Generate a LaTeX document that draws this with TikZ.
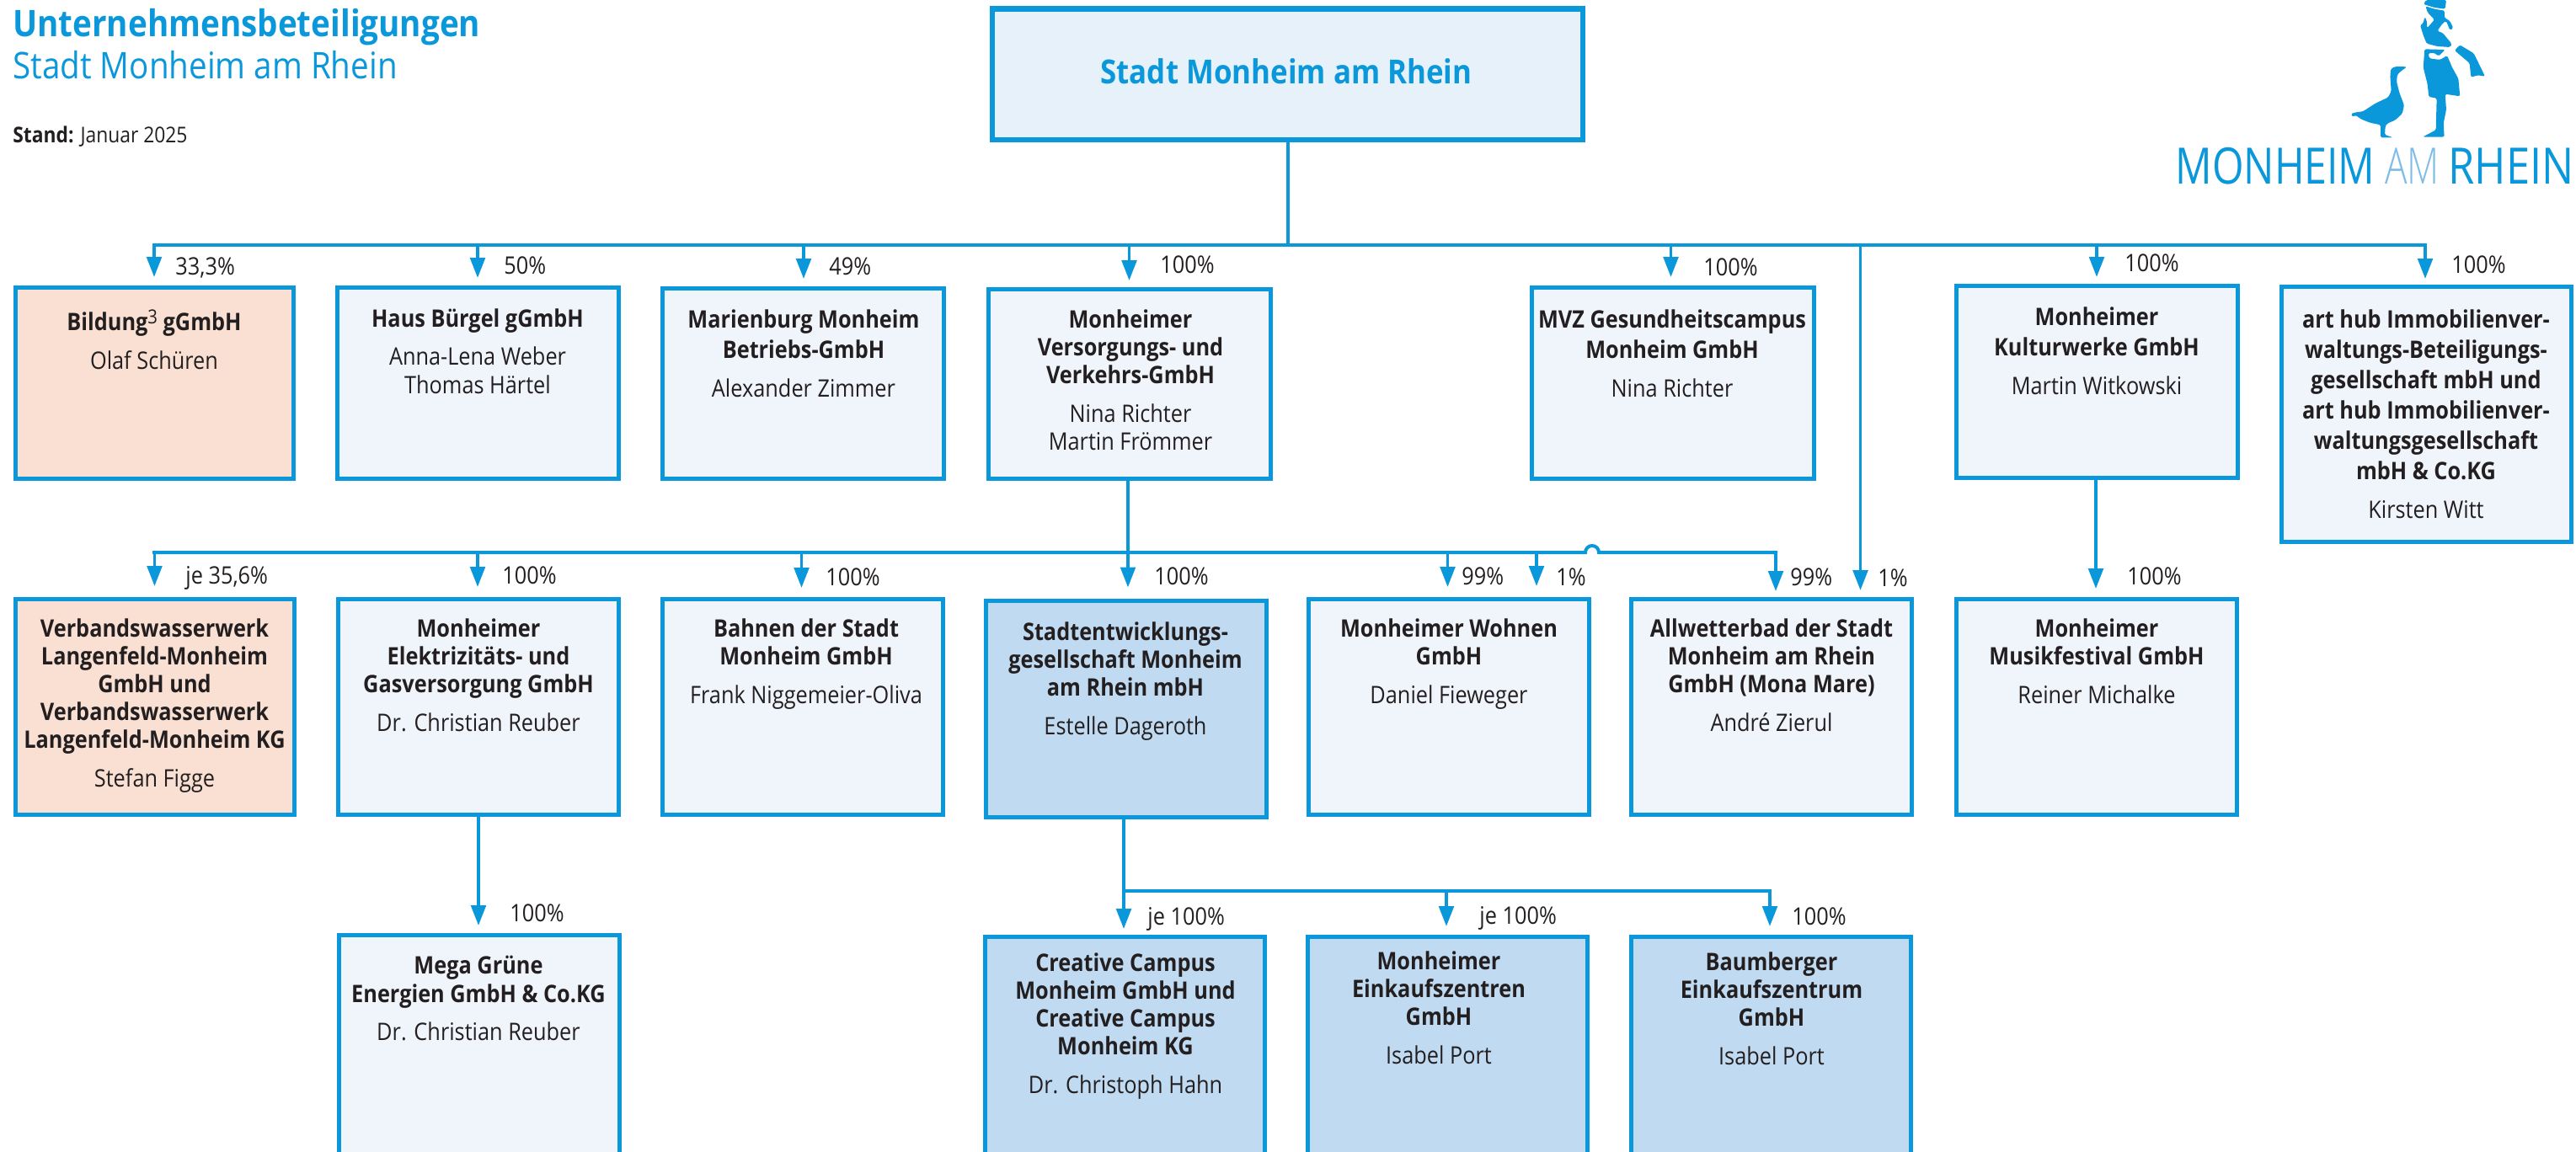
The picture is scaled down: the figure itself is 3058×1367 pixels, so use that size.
\documentclass[tikz,border=0pt]{standalone}
\usepackage{fontspec}
\setmainfont[FakeStretch=0.885]{Open Sans}
\newfontfamily\logofont[FakeStretch=0.81]{Open Sans}
\newfontfamily\logofontrh[FakeStretch=0.85]{Open Sans}
\newfontfamily\logofontam[FakeStretch=0.74]{Open Sans Light}
\usetikzlibrary{arrows.meta,fit}
\definecolor{MonBlue}{HTML}{0A98DB}
\definecolor{MonSky}{HTML}{7FBDE8}
\definecolor{MonText}{HTML}{231F20}
\definecolor{MonPale}{HTML}{F0F5FC}
\definecolor{MonTop}{HTML}{E6F1F9}
\definecolor{MonMid}{HTML}{C0DAF1}
\definecolor{MonPeach}{HTML}{F9E0D3}

\tikzset{
    firm/.style={draw=MonBlue, line width=2.5pt, fill=MonPale, inner sep=0pt},
    firmtext/.style={anchor=north, align=center, inner sep=0pt, text=MonText,
        font=\fontsize{14.3}{16.6}\selectfont\bfseries, execute at begin node=\strut},
    firmwide/.style={firmtext, font=\fontsize{14.3}{18}\selectfont\bfseries},
    share/.style={anchor=base west, inner sep=0pt, text=MonText,
        font=\fontsize{14.3}{16}\selectfont},
    link/.style={draw=MonBlue, line width=1.8pt, -{Triangle[length=12pt,width=8.8pt]}},
    bus/.style={draw=MonBlue, line width=2pt},
}
\newcommand{\pers}{\\[6.3pt]\mdseries}
\newcommand{\persw}{\\[5.4pt]\mdseries}
\newcommand{\persb}{\\\mdseries}

\begin{document}
\begin{tikzpicture}[x=0.5pt,y=-0.5pt]
\useasboundingbox (0,0) rectangle (3058,1367);

% head
\node[firm, line width=3.4pt, fill=MonTop, fit={(1178,10.5) (1879,166)}] (stadt) {};
\node[anchor=center, inner sep=0pt, text=MonBlue, font=\fontsize{19.7}{22}\selectfont\bfseries] (stadtT) at (1527,85) {Stadt Monheim am Rhein};

\node[anchor=base west, inner sep=0pt, text=MonBlue, font=\fontsize{21.8}{24}\selectfont\bfseries] (title) at (15,43) {Unternehmensbeteiligungen};
\node[anchor=base west, inner sep=0pt, text=MonBlue, font=\fontsize{21.8}{24}\selectfont] (subtitle) at (15,93) {Stadt Monheim am Rhein};
\node[anchor=base west, inner sep=0pt, text=MonText, font=\fontsize{12.9}{15}\selectfont] (stand) at (15,169) {\textbf{Stand:} Januar 2025};

% logo
\begin{scope}[shift={(2780,0)},scale=0.3333,rounded corners=0.8pt]
\fill[MonBlue] (33,405) -- (50,400) -- (75,397) -- (120,368) -- (165,347) -- (176,325) -- (172,270) -- (175,245) -- (190,237) -- (232,238) -- (215,250) -- (198,265) -- (195,290) -- (205,330) -- (222,375) -- (215,405) -- (190,428) -- (162,440) -- (155,450) -- (153,480) -- (182,490) -- (138,490) -- (138,445) -- (100,437) -- (70,425) -- (48,410) -- (38,417) -- cycle;
\fill[MonBlue] (279,90) -- (290,83) -- (295,60) -- (302,72) -- (304,100) -- (330,70) -- (306,45) -- (298,22) -- (330,32) -- (366,38) -- (365,62) -- (385,75) -- (397,100) -- (385,108) -- (372,75) -- (360,82) -- (340,110) -- (360,118) -- (392,157) -- (385,168) -- (340,165) -- (302,155) -- (290,125) -- cycle;
\fill[MonBlue] (291,15) -- (300,0) -- (372,0) -- (368,32) -- (330,27) -- cycle;
\fill[MonBlue] (295,175) -- (368,177) -- (345,200) -- (328,188) -- (308,190) -- (312,208) -- (350,213) -- (375,198) -- (393,240) -- (415,280) -- (421,343) -- (368,335) -- (372,390) -- (362,440) -- (365,488) -- (288,488) -- (335,463) -- (338,350) -- (310,345) -- (305,300) -- (290,240) -- cycle;
\fill[MonBlue] (420,160) -- (470,190) -- (510,272) -- (485,268) -- (460,275) -- (455,225) -- (402,180) -- cycle;
\end{scope}
\node[anchor=base west, inner sep=0pt, text=MonBlue, font=\fontsize{29.8}{32}\logofont] (logoA) at (2582,218) {MONHEIM};
\node[anchor=base west, inner sep=0pt, text=MonSky, font=\fontsize{29.8}{32}\logofontam] (logoB) at (2831,218) {AM};
\node[anchor=base west, inner sep=0pt, text=MonBlue, font=\fontsize{29.8}{32}\logofontrh] (logoC) at (2906,218) {RHEIN};

% first row
\node[firm, fill=MonPeach, fit={(18,341.5) (348,568.5)}] (bildung) {};
\node[firm, fit={(400.5,341.5) (734.5,568.5)}] (haus) {};
\node[firm, fit={(786.5,342.5) (1120.5,568.5)}] (marienburg) {};
\node[firm, fit={(1173,343) (1508.5,568.5)}] (versorgung) {};
\node[firm, fit={(1818.5,341) (2153,568.5)}] (mvz) {};
\node[firm, fit={(2322,339.5) (2656,567.5)}] (kultur) {};
\node[firm, fit={(2708.5,340.5) (3052.5,643.5)}] (arthub) {};

\node[firmtext] (bildungT) at (183,367) {Bildung\raisebox{0.3em}{\fontsize{11.5}{10}\selectfont\mdseries 3} gGmbH\pers Olaf Schüren};
\node[firmtext] (hausT) at (567,366) {Haus Bürgel gGmbH\pers Anna-Lena Weber\persb Thomas Härtel};
\node[firmwide] (marienburgT) at (954,367) {Marienburg Monheim\\Betriebs-GmbH\persw Alexander Zimmer};
\node[firmtext] (versorgungT) at (1342,367) {Monheimer\\Versorgungs- und\\Verkehrs-GmbH\pers Nina Richter\persb Martin Frömmer};
\node[firmwide] (mvzT) at (1985,367) {MVZ Gesundheitscampus\\Monheim GmbH\persw Nina Richter};
\node[firmwide] (kulturT) at (2489,364) {Monheimer\\Kulturwerke GmbH\persw Martin Witkowski};
\node[firmwide] (arthubT) at (2880,367) {art hub Immobilienver-\\waltungs-Beteiligungs-\\gesellschaft mbH und\\art hub Immobilienver-\\waltungsgesellschaft\\mbH \& Co.KG\persw Kirsten Witt};

% second row
\node[firm, fill=MonPeach, fit={(18,711.5) (349,967)}] (verband) {};
\node[firm, fit={(401.5,711.5) (734.5,967)}] (elektro) {};
\node[firm, fit={(786.5,711.5) (1119.5,967)}] (bahnen) {};
\node[firm, fill=MonMid, fit={(1170,713) (1503.5,970)}] (stadtent) {};
\node[firm, fit={(1553.5,711) (1886,967)}] (wohnen) {};
\node[firm, fit={(1936,711) (2269,967)}] (allwetter) {};
\node[firm, fit={(2322,711) (2655,967)}] (musik) {};

\node[firmtext] (verbandT) at (183.5,734) {Verbandswasserwerk\\Langenfeld-Monheim\\GmbH und\\Verbandswasserwerk\\Langenfeld-Monheim KG\pers Stefan Figge};
\node[firmtext] (elektroT) at (568,734) {Monheimer\\Elektrizitäts- und\\Gasversorgung GmbH\pers Dr. Christian Reuber};
\node[firmtext] (bahnenT) at (957,734) {Bahnen der Stadt\\Monheim GmbH\pers Frank Niggemeier-Oliva};
\node[firmtext] (stadtentT) at (1336,738) {Stadtentwicklungs-\\gesellschaft Monheim\\am Rhein mbH\pers Estelle Dageroth};
\node[firmtext] (wohnenT) at (1720,734) {Monheimer Wohnen\\GmbH\pers Daniel Fieweger};
\node[firmtext] (allwetterT) at (2103,734) {Allwetterbad der Stadt\\Monheim am Rhein\\GmbH (Mona Mare)\pers André Zierul};
\node[firmtext] (musikT) at (2489,734) {Monheimer\\Musikfestival GmbH\pers Reiner Michalke};

% third row
\node[firm, fit={(402,1110.5) (735,1400)}] (mega) {};
\node[firm, fill=MonMid, fit={(1169.5,1112.5) (1501,1400)}] (creative) {};
\node[firm, fill=MonMid, fit={(1552.5,1112.5) (1884.5,1400)}] (einkauf) {};
\node[firm, fill=MonMid, fit={(1936.5,1112.5) (2268.5,1400)}] (baum) {};

\node[firmtext] (megaT) at (568,1135) {Mega Grüne\\Energien GmbH \& Co.KG\pers Dr. Christian Reuber};
\node[firmtext] (creativeT) at (1336,1131) {Creative Campus\\Monheim GmbH und\\Creative Campus\\Monheim KG\pers Dr. Christoph Hahn};
\node[firmtext] (einkaufT) at (1708,1129) {Monheimer\\Einkaufszentren\\GmbH\pers Isabel Port};
\node[firmtext] (baumT) at (2103,1130) {Baumberger\\Einkaufszentrum\\GmbH\pers Isabel Port};

% connectors
\coordinate (busAleft) at (183,291);
\coordinate (busAright) at (2879,291);
\coordinate (busBleft) at (183,656);
\coordinate (hopA) at (1882,656);
\coordinate (busBright) at (2108,656);
\coordinate (busCleft) at (1334,1058);
\coordinate (busCright) at (2101,1058);

\draw[bus] (stadt.south) -- (stadt.south |- busAleft);
\draw[bus, line cap=rect] (busAleft) -- (busAright);
\draw[bus, line cap=rect] (busBleft) -- (hopA) arc[start angle=180, end angle=360, radius=8] -- (busBright);
\draw[bus, line cap=rect] (busCleft) -- (busCright);

\foreach \firm/\x/\tip/\lx/\ly/\txt in {
    bildung/183/329/208/316/{33,3\%}, haus/567/330/598/315/{50\%},
    marienburg/954/331/984/316/{49\%}, versorgung/1340.5/333/1377/314/{100\%},
    mvz/1983.5/329/2022/317/{100\%}, kultur/2489/329/2522/312/{100\%},
    arthub/2879/331/2910/314/{100\%}} {
    \coordinate (tip\firm) at (\x,\tip);
    \draw[link] (tip\firm |- busAleft) -- (tip\firm);
    \node[share] (lab\firm) at (\lx,\ly+10) {\txt};
}
\foreach \firm/\x/\tip/\lx/\ly/\txt in {
    verband/183.5/696/220/683/{je 35,6\%}, elektro/567/697/596/683/{100\%},
    bahnen/951.5/698/980/685/{100\%}, wohnen/1718.5/697/1735/684/{99\%},
    wohnenB/1824/696/1847/685/{1\%}, allwetter/2108/702/2125/685/{99\%}} {
    \coordinate (tip\firm) at (\x,\tip);
    \draw[link] (tip\firm |- busBleft) -- (tip\firm);
    \node[share] (lab\firm) at (\lx,\ly+10) {\txt};
}
\foreach \firm/\x/\tip/\lx/\ly/\txt in {
    creative/1334/1103/1362/1088/{je 100\%}, einkauf/1717/1100/1756/1087/{je 100\%},
    baum/2101/1100/2127/1088/{100\%}} {
    \coordinate (tip\firm) at (\x,\tip);
    \draw[link] (tip\firm |- busCleft) -- (tip\firm);
    \node[share] (lab\firm) at (\lx,\ly+10) {\txt};
}

\coordinate (tipstadtent) at (1339,697.5);
\coordinate (tipmega) at (568,1099);
\coordinate (tipmusik) at (2488,699);
\coordinate (tipallB) at (2208.5,701);
\draw[link] (tipstadtent |- versorgung.south) -- (tipstadtent);
\draw[link] (tipmega |- elektro.south) -- (tipmega);
\draw[link] (tipmusik |- kultur.south) -- (tipmusik);
\draw[link] (tipallB |- busAleft) -- (tipallB);
\draw[bus] (busCleft |- stadtent.south) -- (busCleft);
\node[share] (labstadtent) at (1370,694) {100\%};
\node[share] (labmega) at (605,1094) {100\%};
\node[share] (labmusik) at (2525,694) {100\%};
\node[share] (laballB) at (2229,696) {1\%};
\end{tikzpicture}
\end{document}
